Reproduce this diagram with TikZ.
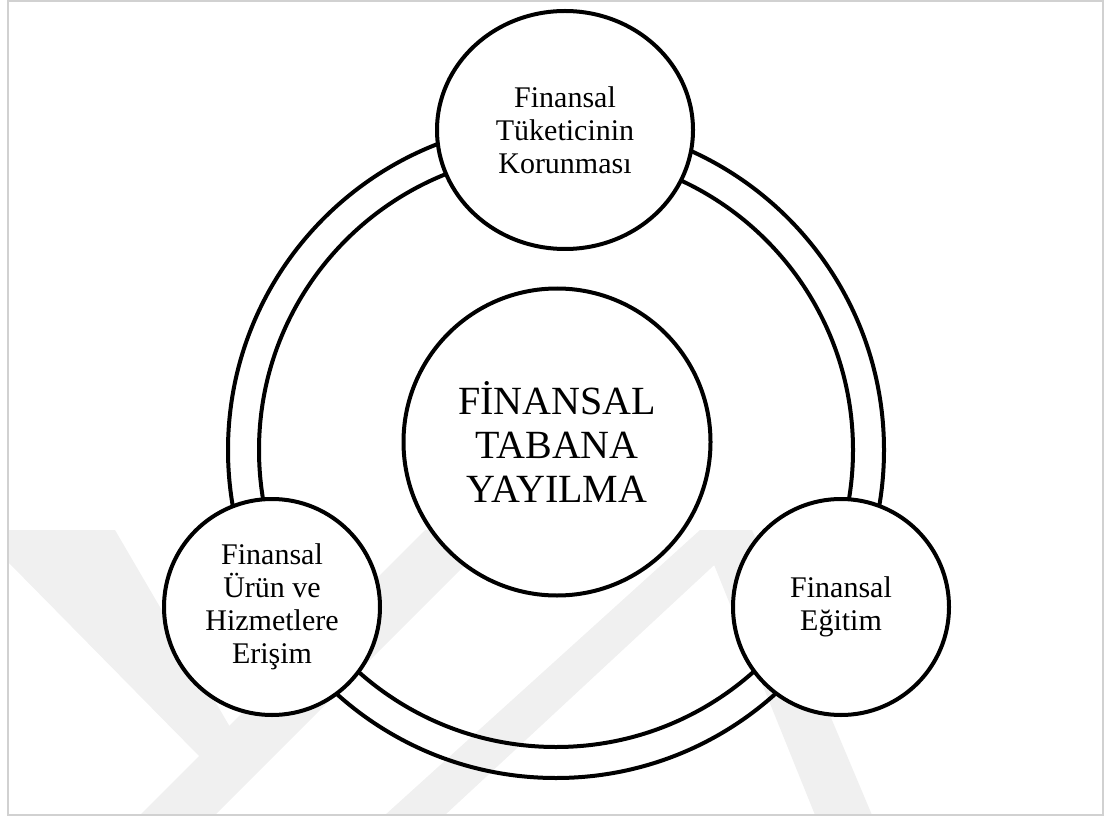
\documentclass[tikz,border=0pt]{standalone}
\usepackage{fontspec}
\setmainfont{Liberation Serif}
\usetikzlibrary{shapes.geometric}

\begin{document}
\begin{tikzpicture}[x=1pt,y=-1pt,
  ring/.style={draw,line width=4pt},
  wmark/.style={fill=black!6},
  core/.style={circle,draw,line width=4pt,fill=white,minimum size=307pt,inner sep=0pt,align=center,font=\fontsize{40}{44}\selectfont},
  pillar/.style={circle,draw,line width=4pt,fill=white,minimum size=216pt,inner sep=0pt,align=center,font=\fontsize{30}{33}\selectfont}]
\useasboundingbox (0,0) rectangle (1105,818);
\fill[wmark] (8,530) -- (115,530) -- (230,727) -- (200,757) -- (8,562) -- cycle;
\fill[wmark] (140,815) -- (215,815) -- (500,530) -- (425,530) -- cycle;
\fill[wmark] (385,815) -- (445,815) -- (752,530) -- (700,530) -- cycle;
\fill[wmark] (700,530) -- (752,530) -- (872,815) -- (815,815) -- cycle;
\draw[black!18,line width=2.5pt] (8,1) rectangle (1103,815);
\coordinate (hub) at (556,450);
\draw[ring] (hub) circle[radius=328pt];
\draw[ring] (hub) circle[radius=297pt];
\node[core] (base) at (557,442) {FİNANSAL\\TABANA\\YAYILMA};
\node[pillar,shape=ellipse,minimum width=256pt,minimum height=238pt] (protect) at (565,130) {Finansal\\Tüketicinin\\Korunması};
\node[pillar] (access) at (272,607) {Finansal\\Ürün ve\\Hizmetlere\\Erişim};
\node[pillar] (educ) at (841,607) {Finansal\\Eğitim};
\end{tikzpicture}
\end{document}
